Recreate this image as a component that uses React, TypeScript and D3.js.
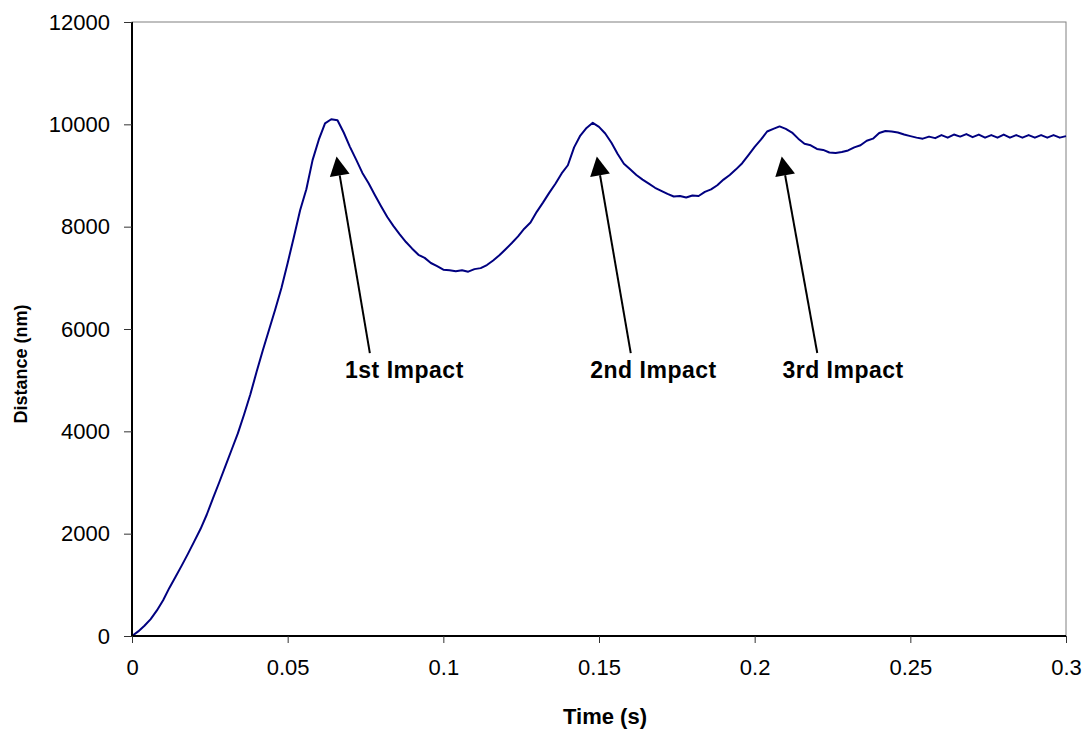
import React, { useEffect, useRef } from 'react';
import * as d3 from 'd3';

const TIME_STEP = 0.002;
const DISTANCE = [
  0, 90, 200, 330, 500, 700, 940, 1160, 1380, 1610,
  1850, 2090, 2370, 2690, 3000, 3320, 3640, 3960, 4330, 4720,
  5160, 5580, 5980, 6380, 6800, 7290, 7800, 8320, 8730, 9300,
  9700, 10020, 10100, 10080, 9840, 9560, 9310, 9050, 8850, 8620,
  8400, 8190, 8010, 7850, 7700, 7570, 7450, 7390, 7290, 7230,
  7160, 7150, 7130, 7150, 7120, 7170, 7190, 7250, 7340, 7440,
  7560, 7680, 7810, 7960, 8080, 8290, 8470, 8660, 8840, 9040,
  9200, 9550, 9780, 9930, 10030, 9950, 9820, 9640, 9420, 9230,
  9120, 9010, 8920, 8840, 8760, 8700, 8640, 8590, 8600, 8570,
  8610, 8600, 8680, 8730, 8810, 8920, 9010, 9120, 9240, 9400,
  9560, 9700, 9860, 9910, 9960, 9910, 9840, 9720, 9620, 9590,
  9520, 9500, 9450, 9440, 9460, 9490, 9550, 9590, 9680, 9720,
  9830, 9870, 9860, 9840, 9800, 9770, 9740, 9720, 9760, 9730,
  9790, 9740, 9800, 9760, 9810, 9750, 9800, 9740, 9790, 9740,
  9800, 9740, 9790, 9740, 9790, 9740, 9790, 9740, 9790, 9740,
  9770
];

const X_TICKS = [0, 0.05, 0.1, 0.15, 0.2, 0.25, 0.3];
const Y_TICKS = [0, 2000, 4000, 6000, 8000, 10000, 12000];

// arrow tip, arrow tail and label centre, in data units
const IMPACT_LABELS = ['1st Impact', '2nd Impact', '3rd Impact'];
const IMPACT_TIP = [[0.0657, 9370], [0.1493, 9370], [0.2087, 9370]];
const IMPACT_TAIL = [[0.0764, 5530], [0.1602, 5530], [0.2201, 5530]];
const IMPACT_TEXT = [[0.0875, 5040], [0.1675, 5040], [0.2284, 5040]];

const W = 1088;
const H = 731;

const App = () => {
  const svgRef = useRef<SVGSVGElement>(null);

  useEffect(() => {
    const svg = d3.select(svgRef.current);
    svg.selectAll('*').remove();

    const margin = { top: 22, right: 22, bottom: 95, left: 132 };
    const innerW = W - margin.left - margin.right;
    const innerH = H - margin.top - margin.bottom;
    const font = '"Liberation Sans", Arial, Helvetica, sans-serif';

    const x = d3.scaleLinear().domain([0, 0.3]).range([0, innerW]);
    const y = d3.scaleLinear().domain([0, 12000]).range([innerH, 0]);

    const g = svg.append('g')
      .attr('transform', `translate(${margin.left},${margin.top})`);

    // plot frame (grey top/right)
    g.append('rect')
      .attr('width', innerW).attr('height', innerH)
      .attr('fill', 'none').attr('stroke', '#808080').attr('stroke-width', 1);

    // curve
    const pts = DISTANCE.map((d, i) => [i * TIME_STEP, d] as [number, number]);
    const line = d3.line<[number, number]>()
      .x(d => x(d[0]))
      .y(d => y(d[1]));
    g.append('path')
      .datum(pts)
      .attr('d', line)
      .attr('fill', 'none')
      .attr('stroke', '#000080')
      .attr('stroke-width', 2)
      .attr('stroke-linejoin', 'round');

    // axes
    const xAxis = g.append('g')
      .attr('transform', `translate(0,${innerH})`)
      .call(d3.axisBottom(x).tickValues(X_TICKS).tickSize(7).tickPadding(16)
        .tickFormat(d => String(+d)));
    const yAxis = g.append('g')
      .call(d3.axisLeft(y).tickValues(Y_TICKS).tickSize(8).tickPadding(14)
        .tickFormat(d => String(d)));

    [xAxis, yAxis].forEach(a => {
      a.select('.domain').attr('stroke', '#000').attr('stroke-width', 2);
      a.selectAll('.tick line').attr('stroke', '#333');
      a.selectAll('.tick text')
        .attr('font-family', font)
        .attr('font-size', 22)
        .attr('fill', '#000');
    });
    xAxis.select('.domain').attr('d', `M0,0H${innerW}`);
    yAxis.select('.domain').attr('d', `M0,${innerH}V0`);

    // axis titles
    g.append('text')
      .attr('x', innerW / 2 + 6)
      .attr('y', innerH + 88)
      .attr('text-anchor', 'middle')
      .attr('font-family', font)
      .attr('font-weight', 'bold')
      .attr('font-size', 22)
      .text('Time (s)');

    g.append('text')
      .attr('transform', `translate(${27 - margin.left},${364 - margin.top}) rotate(-90)`)
      .attr('text-anchor', 'middle')
      .attr('font-family', font)
      .attr('font-weight', 'bold')
      .attr('font-size', 18)
      .text('Distance (nm)');

    // impact annotations
    IMPACT_LABELS.forEach((label, i) => {
      const tx = x(IMPACT_TIP[i][0]), ty = y(IMPACT_TIP[i][1]);
      const sx = x(IMPACT_TAIL[i][0]), sy = y(IMPACT_TAIL[i][1]);
      const ang = Math.atan2(ty - sy, tx - sx);
      const headLen = 19, headHalf = 10;
      const bx = tx - headLen * Math.cos(ang), by = ty - headLen * Math.sin(ang);
      const px = -Math.sin(ang), py = Math.cos(ang);

      g.append('line')
        .attr('x1', sx).attr('y1', sy).attr('x2', bx).attr('y2', by)
        .attr('stroke', '#000').attr('stroke-width', 2);
      g.append('path')
        .attr('d', `M${tx},${ty}L${bx + px * headHalf},${by + py * headHalf}L${bx - px * headHalf},${by - py * headHalf}Z`)
        .attr('fill', '#000');

      g.append('text')
        .attr('x', x(IMPACT_TEXT[i][0]))
        .attr('y', y(IMPACT_TEXT[i][1]))
        .attr('text-anchor', 'middle')
        .attr('font-family', font)
        .attr('font-weight', 'bold')
        .attr('font-size', 23)
        .attr('letter-spacing', 0.5)
        .text(label);
    });
  }, []);

  return (
    <svg
      ref={svgRef}
      width={W}
      height={H}
      style={{ position: 'absolute', left: 0, top: 0, background: '#fff' }}
    />
  );
};

export default App;
